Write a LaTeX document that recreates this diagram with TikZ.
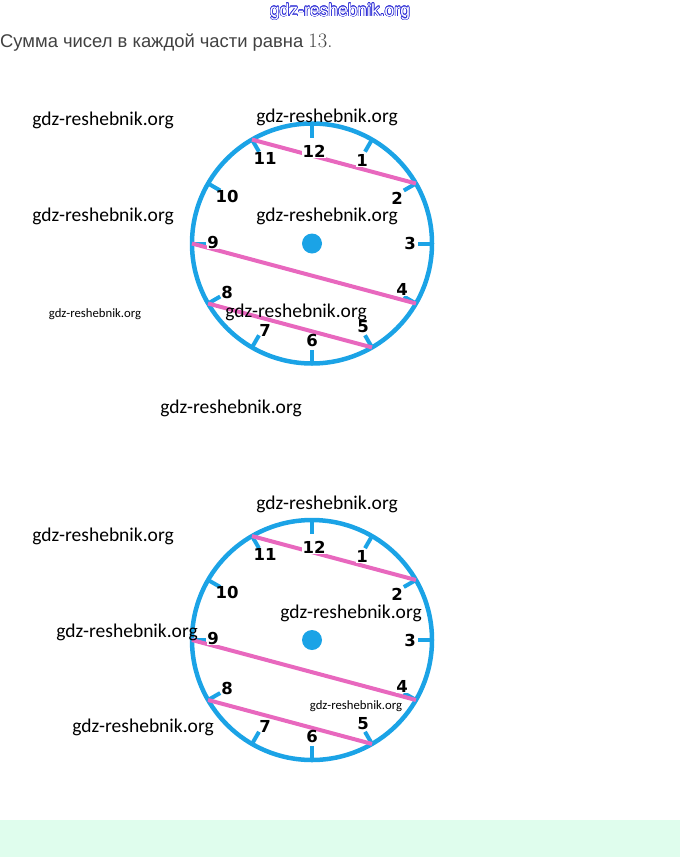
\documentclass[tikz,border=0pt]{standalone}
\usepackage{fontspec}
\usepackage{contour}
\contourlength{0.55pt}
\newfontfamily\wmfont{Carlito}
\newfontfamily\numfont{DejaVu Sans}
\newfontfamily\sitefont{Liberation Sans}
\newfontfamily\capfont{Liberation Sans}
\definecolor{clockblue}{RGB}{27,163,230}
\definecolor{clockpink}{RGB}{232,104,190}
\definecolor{bandgreen}{RGB}{223,253,237}
\definecolor{capgray}{RGB}{65,65,65}
\definecolor{wmblue}{RGB}{50,50,215}
\tikzset{
  ring/.style={draw=clockblue, line width=4.5pt},
  tickline/.style={draw=clockblue, line width=4pt},
  pinkline/.style={draw=clockpink, line width=4pt},
  dotnode/.style={circle, fill=clockblue, minimum size=20pt, inner sep=0pt},
  num/.style={font=\numfont\bfseries\fontsize{16.5}{16.5}\selectfont, inner sep=0.6pt, text=black},
  numw/.style={num, fill=white},
  wm/.style={font=\wmfont\fontsize{19.5}{19.5}\selectfont, inner sep=0pt, text=black},
  wmsmall/.style={font=\wmfont\fontsize{12.7}{12.7}\selectfont, inner sep=0pt, text=black},
  pics/clockface/.style={code={
    \foreach \h in {1,...,12}{
      \coordinate (-p\h) at ({30*\h-90}:120);
      \coordinate (-q\h) at ({30*\h-90}:106);
    }
    \node[dotnode] (-dot) at (0,0) {};
    \draw[ring] (0,0) circle[radius=120];
    \foreach \h in {1,...,12}{ \draw[tickline] (-p\h) -- (-q\h); }
    \draw[pinkline] (-p11) -- (-p2);
    \draw[pinkline] (-p9) -- (-p4);
    \draw[pinkline] (-p8) -- (-p5);
    \node[numw] (-n12) at (2,-92.5) {12};
    \node[numw] (-n1) at (50,-83.5) {1};
    \node[num] (-n2) at (85,-45.5) {2};
    \node[num] (-n3) at (98,0) {3};
    \node[numw] (-n4) at (90,46) {4};
    \node[num] (-n5) at (51,83.5) {5};
    \node[num] (-n6) at (0,96.5) {6};
    \node[num] (-n7) at (-47,86.5) {7};
    \node[num] (-n8) at (-85,48.5) {8};
    \node[numw] (-n9) at (-99,-1.5) {9};
    \node[num] (-n10) at (-85,-47.5) {10};
    \node[num] (-n11) at (-47,-85.5) {11};
  }}
}
\begin{document}
\begin{tikzpicture}[x=1pt,y=-1pt]
\useasboundingbox (0,0) rectangle (680,857);
\fill[bandgreen] (0,820) rectangle (680,857);
\node[inner sep=0pt, font=\sitefont\fontsize{17.5}{17.5}\selectfont] (site) at (340,12) {\contour{wmblue}{\color{white}gdz-reshebnik.org}};
\node[anchor=base west, inner sep=0pt, text=capgray, font=\capfont\fontsize{18.4}{20}\selectfont] (caption) at (0,47) {Сумма чисел в каждой части равна {\rmfamily\fontsize{20.5}{20}\selectfont 13.}};
\pic (c1) at (312,243.5) {clockface};
\pic (c2) at (312,640) {clockface};
\node[wm] (w1) at (103,120) {gdz-reshebnik.org};
\node[wm] (w2) at (327,117) {gdz-reshebnik.org};
\node[wm] (w3) at (103,216) {gdz-reshebnik.org};
\node[wm] (w4) at (327,216) {gdz-reshebnik.org};
\node[wmsmall] (w5) at (95,314) {gdz-reshebnik.org};
\node[wm] (w6) at (296,312) {gdz-reshebnik.org};
\node[wm] (w7) at (231,408) {gdz-reshebnik.org};
\node[wm] (w8) at (327,504) {gdz-reshebnik.org};
\node[wm] (w9) at (103,536) {gdz-reshebnik.org};
\node[wm] (w10) at (351,613) {gdz-reshebnik.org};
\node[wm] (w11) at (127,632) {gdz-reshebnik.org};
\node[wmsmall] (w12) at (356,706) {gdz-reshebnik.org};
\node[wm] (w13) at (143,727) {gdz-reshebnik.org};
\end{tikzpicture}
\end{document}
